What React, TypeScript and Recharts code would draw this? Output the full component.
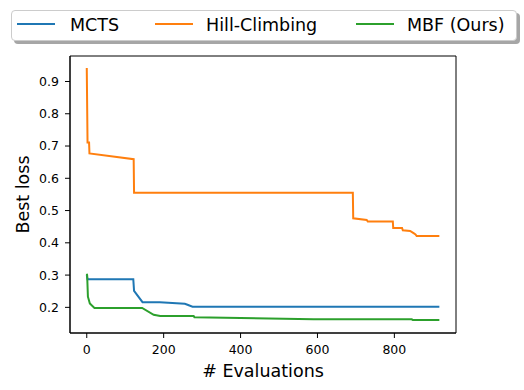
import { LineChart, Line, XAxis, YAxis, Label, ReferenceArea } from 'recharts';

const mctsX = [0, 2, 121, 123, 145, 190, 255, 262, 275, 917];
const mctsY = [0.3, 0.287, 0.287, 0.251, 0.216, 0.216, 0.211, 0.208, 0.202, 0.202];

const hillX = [0, 2, 6, 7, 122, 123, 692, 693, 728, 731, 796, 797, 820, 822, 841, 850, 855, 858, 917];
const hillY = [0.942, 0.711, 0.711, 0.677, 0.659, 0.555, 0.555, 0.476, 0.471, 0.466, 0.466, 0.446, 0.446, 0.439, 0.437, 0.43, 0.426, 0.421, 0.421];

const mbfX = [0, 1, 3, 8, 20, 144, 174, 191, 278, 280, 590, 845, 848, 917];
const mbfY = [0.304, 0.3, 0.233, 0.212, 0.198, 0.198, 0.177, 0.173, 0.173, 0.169, 0.163, 0.163, 0.161, 0.161];

const xTicks = [0, 200, 400, 600, 800];
const yTicks = [0.2, 0.3, 0.4, 0.5, 0.6, 0.7, 0.8, 0.9];

const seriesNames = ['MCTS', 'Hill-Climbing', 'MBF (Ours)'];
const COLORS = ['#1f77b4', '#ff7f0e', '#2ca02c'];

const zip = (xs: number[], ys: number[]) => xs.map((x, i) => ({ x, y: ys[i] }));
const mctsData = zip(mctsX, mctsY);
const hillData = zip(hillX, hillY);
const mbfData = zip(mbfX, mbfY);

const FONT = '"DejaVu Sans", sans-serif';
const X_DOMAIN: [number, number] = [-43.6, 960.3];
const Y_DOMAIN: [number, number] = [0.1205, 0.979];

function ChartLegend() {
  const items = [
    { line: 5, text: 58 },
    { line: 143, text: 194 },
    { line: 344, text: 395 },
  ];
  return (
    <div
      style={{
        position: 'absolute',
        left: 11,
        top: 10,
        width: 504,
        height: 29,
        border: '1px solid #cccccc',
        borderRadius: 4,
        background: '#fff',
        boxShadow: '3px 3px 0 #a6a6a6',
      }}
    >
      <svg width={504} height={29} style={{ display: 'block' }}>
        {items.map((it, i) => (
          <g key={seriesNames[i]}>
            <line x1={it.line} x2={it.line + 38} y1={13} y2={13} stroke={COLORS[i]} strokeWidth={2} />
            <text x={it.text} y={20} fontSize={17.5} fontFamily={FONT} fill="#000">
              {seriesNames[i]}
            </text>
          </g>
        ))}
      </svg>
    </div>
  );
}

export default function App() {
  return (
    <div style={{ position: 'absolute', left: 0, top: 0, width: 524, height: 390, background: '#fff' }}>
      <LineChart width={524} height={390} margin={{ top: 56, right: 68, bottom: 17, left: 10 }}>
        <XAxis
          type="number"
          dataKey="x"
          domain={X_DOMAIN}
          allowDataOverflow
          ticks={xTicks}
          interval={0}
          height={40}
          tickSize={5}
          tickMargin={7}
          axisLine={{ stroke: '#000' }}
          tickLine={{ stroke: '#000' }}
          tick={{ fill: '#000', fontSize: 12.5, fontFamily: FONT }}
        >
          <Label
            content={() => (
              <text x={263} y={376.5} textAnchor="middle" fontSize={17.5} fontFamily={FONT} fill="#000">
                # Evaluations
              </text>
            )}
          />
        </XAxis>
        <YAxis
          type="number"
          domain={Y_DOMAIN}
          allowDataOverflow
          ticks={yTicks}
          interval={0}
          width={60}
          tickSize={5}
          tickMargin={6}
          axisLine={{ stroke: '#000' }}
          tickLine={{ stroke: '#000' }}
          tick={{ fill: '#000', fontSize: 12.5, fontFamily: FONT }}
        >
          <Label
            content={() => (
              <text
                x={28.5}
                y={194.5}
                transform="rotate(-90 28.5 194.5)"
                textAnchor="middle"
                fontSize={17.5}
                fontFamily={FONT}
                fill="#000"
              >
                Best loss
              </text>
            )}
          />
        </YAxis>
        {/* full frame like matplotlib spines */}
        <ReferenceArea
          x1={X_DOMAIN[0]}
          x2={X_DOMAIN[1]}
          y1={Y_DOMAIN[0]}
          y2={Y_DOMAIN[1]}
          fill="none"
          fillOpacity={0}
          stroke="#000"
          strokeWidth={1}
          strokeOpacity={1}
        />
        <Line data={mctsData} dataKey="y" type="linear" stroke={COLORS[0]} strokeWidth={2} dot={false} isAnimationActive={false} />
        <Line data={hillData} dataKey="y" type="linear" stroke={COLORS[1]} strokeWidth={2} dot={false} isAnimationActive={false} />
        <Line data={mbfData} dataKey="y" type="linear" stroke={COLORS[2]} strokeWidth={2} dot={false} isAnimationActive={false} />
      </LineChart>
      <ChartLegend />
    </div>
  );
}
